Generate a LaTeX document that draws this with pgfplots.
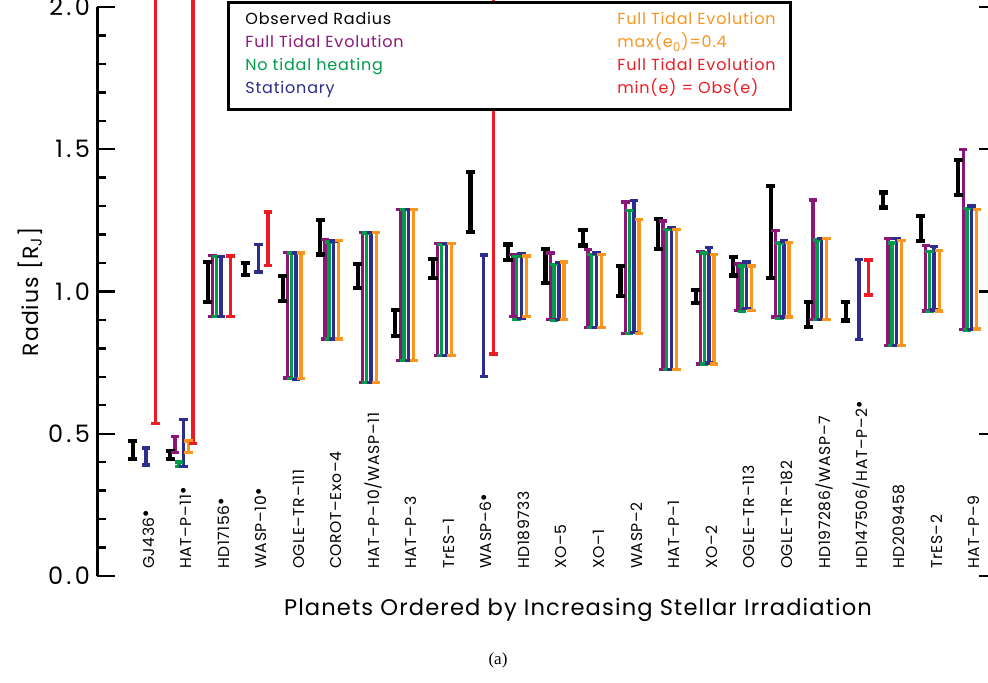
\documentclass[border=0pt]{standalone}
\usepackage{pgfplots}
\pgfplotsset{compat=1.18}
\usepackage{pgfplotstable}
\usepackage{fontspec}
\setmainfont{Poppins}[LetterSpace=5]
\newfontfamily\labfont{Poppins}[LetterSpace=4]
\newfontfamily\tickfont{Poppins}[LetterSpace=14]
\newfontfamily\seriffont{Liberation Serif}
\definecolor{cpur}{RGB}{140,22,120}
\definecolor{cgrn}{RGB}{0,155,75}
\definecolor{cblu}{RGB}{45,45,140}
\definecolor{cora}{RGB}{250,150,30}
\definecolor{cred}{RGB}{237,28,36}

\pgfplotstableread{
i lo hi
0 0.410 0.475
1 0.410 0.440
2 0.963 1.104
3 1.057 1.100
4 0.966 1.055
5 1.130 1.250
6 1.013 1.097
7 0.843 0.934
8 1.048 1.113
9 1.209 1.420
10 1.110 1.165
11 1.031 1.148
12 1.162 1.215
13 0.984 1.089
14 1.150 1.256
15 0.960 1.005
16 1.056 1.122
17 1.048 1.371
18 0.874 0.962
19 0.898 0.962
20 1.295 1.348
21 1.177 1.265
22 1.338 1.462
}\obs

\pgfplotstableread{
i lo hi
1 0.435 0.490
2 0.912 1.127
4 0.696 1.138
5 0.833 1.183
6 0.681 1.207
7 0.757 1.288
8 0.775 1.168
10 0.913 1.130
11 0.901 1.136
12 0.874 1.148
13 0.852 1.315
14 0.725 1.248
15 0.745 1.141
16 0.933 1.097
17 0.911 1.215
18 0.901 1.322
20 0.811 1.187
21 0.931 1.162
22 0.866 1.500
}\fulltidal

\pgfplotstableread{
i lo hi
1 0.385 0.400
2 0.912 1.122
4 0.694 1.135
5 0.833 1.174
6 0.681 1.205
7 0.757 1.288
8 0.775 1.166
10 0.902 1.122
11 0.898 1.095
12 0.874 1.130
13 0.852 1.285
14 0.725 1.218
15 0.745 1.136
16 0.929 1.089
17 0.905 1.171
18 0.901 1.181
20 0.811 1.171
21 0.929 1.140
22 0.864 1.291
}\noheat

\pgfplotstableread{
i lo hi
0 0.390 0.450
1 0.385 0.550
2 0.912 1.122
3 1.068 1.165
4 0.691 1.135
5 0.833 1.178
6 0.681 1.207
7 0.757 1.288
8 0.775 1.168
9 0.702 1.128
10 0.905 1.133
11 0.901 1.101
12 0.874 1.136
13 0.855 1.320
14 0.725 1.224
15 0.748 1.154
16 0.940 1.104
17 0.911 1.177
18 0.901 1.187
19 0.831 1.113
20 0.811 1.187
21 0.935 1.159
22 0.866 1.300
}\stationary

\pgfplotstableread{
i lo hi
1 0.435 0.475
4 0.694 1.135
5 0.833 1.180
6 0.681 1.207
7 0.757 1.288
8 0.775 1.168
10 0.913 1.125
11 0.901 1.103
12 0.874 1.130
13 0.852 1.254
14 0.725 1.218
15 0.745 1.130
16 0.933 1.089
17 0.911 1.173
18 0.901 1.187
20 0.811 1.180
21 0.931 1.144
22 0.868 1.289
}\maxecc

\pgfplotstableread{
i lo hi
0 0.535 2.06
1 0.465 2.06
2 0.912 1.125
3 1.091 1.279
9 0.781 2.06
19 0.987 1.110
}\minecc

\newcommand{\bars}[5]{%
\addplot[draw=none, no markers, forget plot,
  error bars/.cd, y dir=both, y explicit,
  error mark=none,
  error bar style={draw=#2, line width=#4}]
  table[x expr=\thisrow{i}+#3, y expr=0.5*(\thisrow{lo}+\thisrow{hi}),
        y error expr=0.5*(\thisrow{hi}-\thisrow{lo})] {#1};
\addplot[only marks, forget plot, mark=-, mark size=#5,
  mark options={draw=#2, line width=#4}]
  table[x expr=\thisrow{i}+#3, y=lo] {#1};
\addplot[only marks, forget plot, mark=-, mark size=#5,
  mark options={draw=#2, line width=#4}]
  table[x expr=\thisrow{i}+#3, y=hi] {#1};}

\begin{document}
\begin{tikzpicture}
\begin{axis}[at={(0,0)}, anchor=south west, scale only axis,
  width=450pt, height=284.5pt,
  xmin=-1.37, xmax=22.61, ymin=0, ymax=2,
  clip=false, separate axis lines,
  x axis line style={draw=none},
  y axis line style={line width=1.5pt},
  xtick={0,...,22},
  xticklabels={GJ436$^{\bullet}$, HAT–P–11$^{\bullet}$, HD17156$^{\bullet}$, WASP–10$^{\bullet}$,
    OGLE–TR–111, COROT–Exo–4, HAT–P–10/WASP–11, HAT–P–3, TrES–1, WASP–6$^{\bullet}$,
    HD189733, XO–5, XO–1, WASP–2, HAT–P–1, XO–2, OGLE–TR–113, OGLE–TR–182,
    HD197286/WASP–7, HD147506/HAT–P–2$^{\bullet}$, HD209458, TrES–2, HAT–P–9},
  major x tick style={draw=none},
  xticklabel style={rotate=90, anchor=west, font=\labfont\fontsize{7.8}{8}\selectfont},
  ytick={0,0.5,1,1.5,2},
  minor ytick={0.1,0.2,0.3,0.4,0.6,0.7,0.8,0.9,1.1,1.2,1.3,1.4,1.6,1.7,1.8,1.9},
  major y tick style={line width=1.2pt, black},
  minor y tick style={line width=1.2pt, black},
  major tick length=8.8pt, minor tick length=4.5pt,
  yticklabel style={font=\tickfont\fontsize{12}{12}\selectfont, /pgf/number format/.cd, fixed, fixed zerofill, precision=1, assume math mode=true},
]
\bars{\obs}{black}{-0.42}{2.1pt}{2.3pt}
\bars{\fulltidal}{cpur}{-0.29}{1.7pt}{2.1pt}
\bars{\noheat}{cgrn}{-0.19}{1.7pt}{2.1pt}
\bars{\stationary}{cblu}{-0.065}{1.7pt}{2.1pt}
\bars{\maxecc}{cora}{0.07}{1.7pt}{2.1pt}
\bars{\minecc}{cred}{0.19}{1.7pt}{2.1pt}
\end{axis}
\begin{scope}[x=0.5pt, y=-0.5pt, shift={(-97,-576)}]
\draw[line width=1.5pt, fill=white] (228,3) rectangle (790,110);
\begin{scope}[every node/.style={anchor=base west, inner sep=0pt, font=\fontsize{8}{8}\selectfont}]
\node[text=black] at (245,25) {Observed Radius};
\node[text=cpur] at (245,48) {Full Tidal Evolution};
\node[text=cgrn] at (245,71) {No tidal heating};
\node[text=cblu] at (245,94) {Stationary};
\node[text=cora] at (617,25) {Full Tidal Evolution};
\node[text=cora] at (617,48) {max(e\textsubscript{0})=0.4};
\node[text=cred] at (617,71) {Full Tidal Evolution};
\node[text=cred] at (617,94) {min(e) = Obs(e)};
\end{scope}
\node[rotate=90, font=\fontsize{11}{11}\selectfont] at (30,292) {Radius [R\textsubscript{J}]};
\node[font=\fontsize{11.3}{12}\selectfont] at (578,610) {Planets Ordered by Increasing Stellar Irradiation};
\node[font=\seriffont\fontsize{8.5}{9}\selectfont] at (498,660) {(a)};
\pgfresetboundingbox
\path[use as bounding box] (0,0) rectangle (988,683);
\end{scope}
\end{tikzpicture}
\end{document}
